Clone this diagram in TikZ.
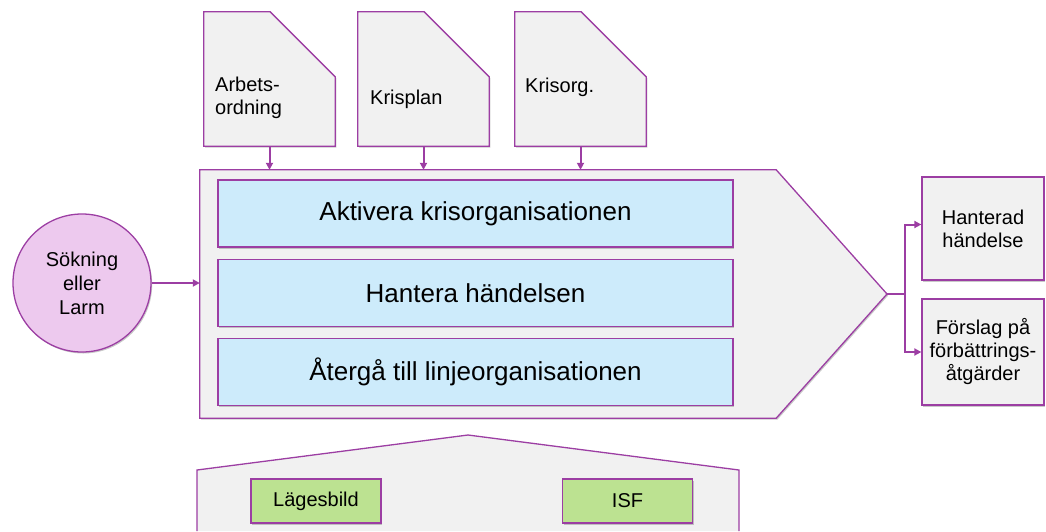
\documentclass[tikz,border=0pt]{standalone}
\usepackage{fontspec}
\setmainfont{Liberation Sans}
\usetikzlibrary{arrows.meta,shadows,positioning}
\definecolor{lila}{HTML}{9C3EA3}
\definecolor{lilaljus}{HTML}{EDC9EE}
\definecolor{gra}{HTML}{F1F1F1}
\definecolor{bla}{HTML}{CDEBFB}
\definecolor{gron}{HTML}{BCE291}
\tikzset{
	skugga/.style={drop shadow={shadow xshift=1.2pt,shadow yshift=-1.5pt,opacity=.3,fill=black!70}},
	ram/.style={draw=lila,line width=1.3pt},
	pil/.style={draw=lila,line width=2pt,-{Triangle[length=7pt,width=7pt]}},
	dok/.style={minimum width=131pt,minimum height=134pt,inner sep=0pt},
	doktext/.style={font=\fontsize{20}{23}\selectfont,align=left,inner sep=0pt,anchor=base west},
	steg/.style={ram,fill=bla,skugga,minimum width=515pt,minimum height=67pt,font=\fontsize{26}{30}\selectfont},
	utfall/.style={ram,fill=gra,skugga,minimum width=122pt,align=center,font=\fontsize{20}{23}\selectfont},
	stod/.style={ram,fill=gron,skugga,minimum width=130pt,minimum height=44pt,font=\fontsize{20}{23}\selectfont}
}
\newcommand{\klipp}{65pt}

\begin{document}
\begin{tikzpicture}[x=1pt,y=-1pt]
	\useasboundingbox (0,0) rectangle (1046,531);
	% styrdokument
	\node[dok] (arb) at (269.5,79) {};
	\node[dok] (kp) at (423.5,79) {};
	\node[dok] (ko) at (580.5,79) {};
	\foreach \d in {arb,kp,ko}
		\filldraw[ram,fill=gra,skugga] (\d.south west) -- (\d.north west) -- ([xshift=-\klipp]\d.north east)
			-- ([yshift=-\klipp]\d.north east) -- (\d.south east) -- cycle;
	\node[doktext] (arbT) at (215,114) {Arbets-\\ordning};
	\node[doktext] (kpT) at (370,104) {Krisplan};
	\node[doktext] (koT) at (525,92) {Krisorg.};
	% processen
	\node[minimum width=576pt,minimum height=248pt,inner sep=0pt] (proc) at (488,294) {};
	\coordinate (spets) at (887,294);
	\filldraw[ram,fill=gra,skugga] (proc.south west) -- (proc.north west) -- (proc.north east)
		-- (spets) -- (proc.south east) -- cycle;
	\node[steg] (akt) at (475.5,213.5) {Aktivera krisorganisationen};
	\node[steg,below=11pt of akt] (han) {Hantera händelsen};
	\node[steg,below=11pt of han] (ater) {Återgå till linjeorganisationen};
	\foreach \d in {arb,kp,ko}
		\draw[pil] (\d.south) -- (\d.south |- proc.north);
	% in
	\node[circle,ram,fill=lilaljus,skugga,minimum size=138pt,align=center,
		font=\fontsize{20}{24}\selectfont] (sok) at (82,283) {Sökning\\eller\\Larm};
	\draw[pil] (sok.east) -- (sok.east -| proc.west);
	% ut
	\node[utfall,minimum height=103pt] (hant) at (983,228.5) {Hanterad\\händelse};
	\node[utfall,minimum height=106pt] (forsl) at (983,352) {Förslag på\\förbättrings-\\åtgärder};
	\coordinate[right=18pt of spets] (gren);
	\draw[draw=lila,line width=2pt] (spets) -- (gren);
	\draw[pil] (gren) |- ([yshift=4pt]hant.west);
	\draw[pil] (gren) |- (forsl.west);
	% stöd
	\fill[gra] (197,531) -- (197,470) -- (468,435) -- (739,470) -- (739,531) -- cycle;
	\draw[ram] (197,531) -- (197,470) -- (468,435) -- (739,470) -- (739,531);
	\node[stod] (lage) at (316,501) {Lägesbild};
	\node[stod] (isf) at (627.5,501) {ISF};
\end{tikzpicture}
\end{document}
